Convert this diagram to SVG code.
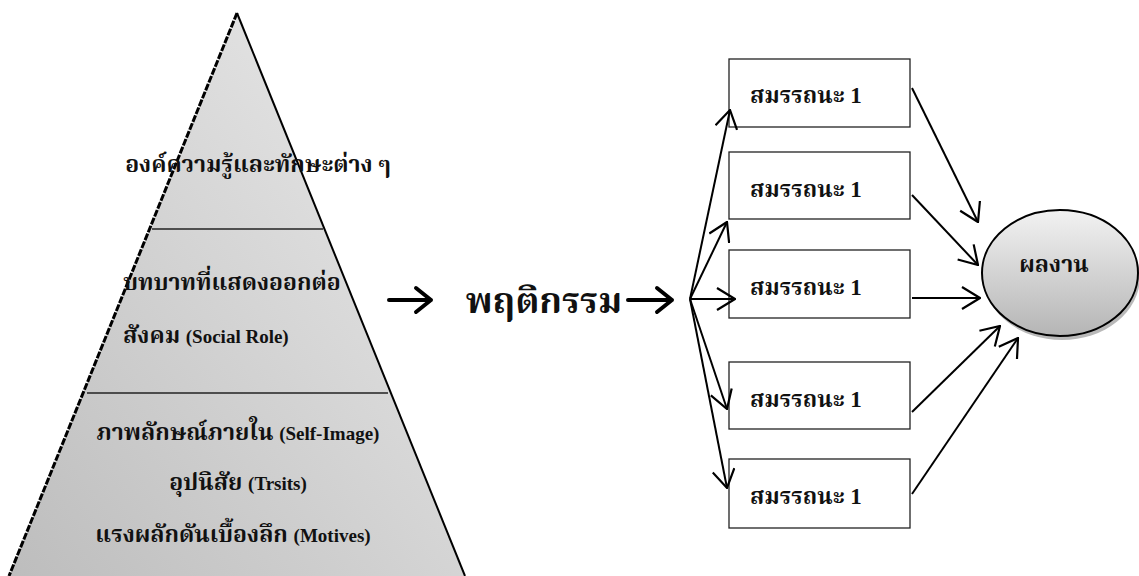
<svg xmlns="http://www.w3.org/2000/svg" width="1139" height="576" viewBox="0 0 1139 576">
  <style>
    .t { font-family: "Liberation Serif", "Noto Serif Thai", "Noto Sans Thai", serif; font-weight: bold; fill: #111; }
    .th { font-size: 23px; }
    .en { font-family: "Liberation Serif", serif; font-size: 19px; }
    .box { fill: #fff; stroke: #222; stroke-width: 1.3; }
    .con { stroke: #000; stroke-width: 2; fill: none; marker-end: url(#v); }
    .big { stroke: #000; stroke-width: 4; fill: none; stroke-linecap: round; stroke-linejoin: round; }
  </style>
  <defs>
    <linearGradient id="pg" x1="0" y1="1" x2="1" y2="0">
      <stop offset="0" stop-color="#bdbdbd"/>
      <stop offset="1" stop-color="#ececec"/>
    </linearGradient>
    <linearGradient id="eg" x1="0" y1="0" x2="0" y2="1">
      <stop offset="0" stop-color="#f2f2f2"/>
      <stop offset="1" stop-color="#b5b5b5"/>
    </linearGradient>
    <marker id="v" viewBox="0 0 20 24" refX="19" refY="12" markerWidth="20" markerHeight="24" markerUnits="userSpaceOnUse" orient="auto">
      <path d="M1,1 L19,12 L1,23" fill="none" stroke="#000" stroke-width="2.2"/>
    </marker>
  </defs>

  <g id="pyramid">
    <polygon points="237,13 465,576 9,576" fill="url(#pg)"/>
    <line x1="237" y1="13" x2="465" y2="576" stroke="#000" stroke-width="2"/>
    <line x1="237" y1="13" x2="9" y2="576" stroke="#000" stroke-width="3" stroke-dasharray="7,1.5"/>
    <line x1="152" y1="229" x2="323" y2="229" stroke="#222" stroke-width="1.6"/>
    <line x1="87" y1="393" x2="388" y2="393" stroke="#222" stroke-width="1.6"/>
    <text class="t th" x="258" y="172" text-anchor="middle">องค์ความรู้และทักษะต่าง ๆ</text>
    <text class="t th" x="123" y="290">บทบาทที่แสดงออกต่อ</text>
    <text class="t th" x="123" y="343">สังคม <tspan class="en">(Social Role)</tspan></text>
    <text class="t th" x="238" y="440" text-anchor="middle">ภาพลักษณ์ภายใน <tspan class="en">(Self-Image)</tspan></text>
    <text class="t th" x="238" y="490" text-anchor="middle">อุปนิสัย <tspan class="en">(Trsits)</tspan></text>
    <text class="t th" x="233" y="542" text-anchor="middle">แรงผลักดันเบื้องลึก <tspan class="en">(Motives)</tspan></text>
  </g>

  <g id="behavior">
    <path class="big" d="M389,300 L431,300 M416,288 L431,300 L416,312"/>
    <text class="t" x="544" y="313" font-size="36" text-anchor="middle">พฤติกรรม</text>
    <path class="big" d="M628,300 L672,300 M657,288 L672,300 L657,312"/>
  </g>

  <g id="box1"><rect class="box" x="729" y="59" width="181" height="68"/><text class="t th" x="750" y="103">สมรรถนะ 1</text></g>
  <g id="box2"><rect class="box" x="729" y="152" width="181" height="67"/><text class="t th" x="750" y="197">สมรรถนะ 1</text></g>
  <g id="box3"><rect class="box" x="729" y="250" width="181" height="68"/><text class="t th" x="750" y="295">สมรรถนะ 1</text></g>
  <g id="box4"><rect class="box" x="729" y="362" width="181" height="67"/><text class="t th" x="750" y="407">สมรรถนะ 1</text></g>
  <g id="box5"><rect class="box" x="729" y="459" width="181" height="69"/><text class="t th" x="750" y="504">สมรรถนะ 1</text></g>

  <g id="result">
    <ellipse cx="1062" cy="277" rx="78" ry="63" fill="#8a8a8a" opacity="0.6"/>
    <ellipse cx="1060" cy="273" rx="78" ry="63" fill="url(#eg)" stroke="#000" stroke-width="2"/>
    <text class="t th" x="1054" y="272" text-anchor="middle">ผลงาน</text>
  </g>

  <g id="connectors">
    <line class="con" x1="690" y1="299" x2="730" y2="110"/>
    <line class="con" x1="690" y1="299" x2="727" y2="222"/>
    <line class="con" x1="690" y1="299" x2="735" y2="299"/>
    <line class="con" x1="690" y1="299" x2="727" y2="409"/>
    <line class="con" x1="690" y1="299" x2="727" y2="488"/>
    <line class="con" x1="912" y1="88" x2="978" y2="222"/>
    <line class="con" x1="912" y1="195" x2="978" y2="265"/>
    <line class="con" x1="912" y1="298" x2="980" y2="298"/>
    <line class="con" x1="912" y1="412" x2="1000" y2="326"/>
    <line class="con" x1="912" y1="494" x2="1018" y2="338"/>
  </g>
</svg>
